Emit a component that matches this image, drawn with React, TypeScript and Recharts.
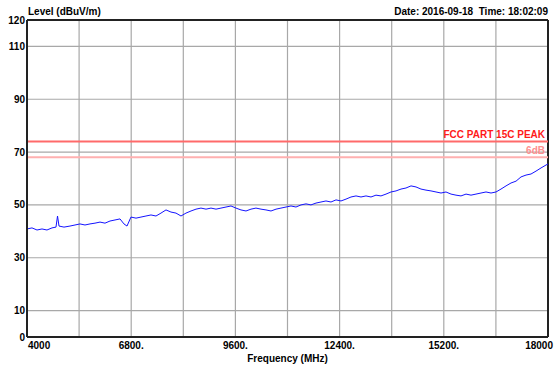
import { LineChart, Line, XAxis, YAxis, CartesianGrid, ReferenceLine, Label } from 'recharts';

const FREQ = [
  4000, 4134, 4269, 4403, 4537, 4672, 4779, 4820, 4860, 4994, 5155, 5290, 5424, 5558, 5693, 5827,
  5962, 6096, 6230, 6365, 6499, 6606, 6687, 6794, 6929, 7063, 7197, 7332, 7466, 7600, 7735, 7869,
  8004, 8138, 8272, 8407, 8541, 8675, 8810, 8944, 9079, 9213, 9347, 9482, 9616, 9750, 9885, 10019,
  10153, 10288, 10422, 10557, 10691, 10825, 10960, 11094, 11228, 11363, 11497, 11631, 11766, 11900,
  12034, 12169, 12303, 12438, 12572, 12706, 12841, 12975, 13109, 13244, 13378, 13512, 13647, 13781,
  13916, 14050, 14184, 14319, 14453, 14587, 14722, 14856, 14991, 15125, 15259, 15394, 15528, 15662,
  15797, 15931, 16065, 16200, 16334, 16469, 16603, 16737, 16872, 17006, 17141, 17275, 17409, 17544,
  17678, 17813, 17947, 18000,
];
const LEVEL = [
  40.9, 41.3, 40.5, 40.9, 40.5, 41.3, 41.6, 45.8, 42.0, 41.6, 42.0, 42.4, 42.8, 42.4, 42.8, 43.1,
  43.5, 43.1, 43.9, 44.3, 44.7, 42.8, 42.0, 45.4, 45.0, 45.4, 45.8, 46.2, 45.8, 46.9, 48.1, 47.3,
  46.9, 45.8, 46.9, 47.7, 48.4, 48.8, 48.4, 48.8, 48.4, 48.8, 49.2, 49.6, 48.8, 48.1, 47.7, 48.4,
  48.8, 48.4, 48.1, 47.7, 48.4, 48.8, 49.2, 49.6, 49.2, 50.0, 50.4, 50.0, 50.7, 51.1,
  51.5, 51.1, 51.9, 51.5, 52.2, 53.0, 53.4, 53.0, 53.4, 53.0, 53.7, 53.4, 54.1, 54.9,
  55.3, 56.0, 56.4, 57.2, 56.8, 56.0, 55.6, 55.3, 54.9, 54.5, 54.9, 54.1, 53.7, 53.4,
  54.1, 53.7, 54.1, 54.5, 54.9, 54.5, 54.9, 56.0, 57.2, 58.3, 59.0, 60.6, 61.3, 61.7,
  62.8, 64.0, 65.1, 65.5,
];
const X_TICKS = [4000, 6800, 9600, 12400, 15200, 18000];
const X_TICK_LABELS = ['4000', '6800.', '9600.', '12400.', '15200.', '18000'];
const X_GRID = [5400, 6800, 8200, 9600, 11000, 12400, 13800, 15200, 16600];
const Y_TICKS = [0, 10, 30, 50, 70, 90, 110, 120];
const Y_GRID = [10, 30, 50, 70, 90, 110];
const FCC_LIMIT = 74;
const MARGIN_LIMIT = 68;

const data = FREQ.map((f, i) => ({ f, level: LEVEL[i] }));

const FONT = '"Liberation Sans", Arial, sans-serif';
const FS = 10;

function XTick({ x, y, payload, index }: any) {
  const last = index === X_TICKS.length - 1;
  const anchor = index === 0 ? 'start' : last ? 'end' : 'middle';
  const dx = index === 0 ? 1 : last ? 5 : 0;
  return (
    <text x={x + dx} y={y + 8} textAnchor={anchor} dominantBaseline="central"
      fontFamily={FONT} fontWeight="bold" fontSize={FS} fill="#000">
      {X_TICK_LABELS[X_TICKS.indexOf(payload.value)]}
    </text>
  );
}

function YTick({ x, y, payload }: any) {
  return (
    <text x={x - 2} y={y} textAnchor="end" dominantBaseline="central"
      fontFamily={FONT} fontWeight="bold" fontSize={FS} fill="#000">
      {payload.value}
    </text>
  );
}

function limitLabel(text: string, color: string) {
  return ({ viewBox }: any) => (
    <text x={viewBox.x + viewBox.width - 3} y={viewBox.y - 7} textAnchor="end" dominantBaseline="central"
      fontFamily={FONT} fontWeight="bold" fontSize={FS} fill={color}>
      {text}
    </text>
  );
}

export default function App() {
  return (
    <div style={{ position: 'relative', width: 556, height: 370, background: '#fff', fontFamily: FONT }}>
      <style>{'body{margin:0}'}</style>
      <div style={{ position: 'absolute', left: 28, top: 6, fontSize: FS, fontWeight: 'bold' }}>Level (dBuV/m)</div>
      <div style={{ position: 'absolute', right: 8, top: 6, fontSize: FS, fontWeight: 'bold', whiteSpace: 'pre' }}>
        Date: 2016-09-18  Time: 18:02:09
      </div>
      <LineChart width={556} height={370} data={data} margin={{ top: 20, right: 8, bottom: 0, left: 0 }}>
        <CartesianGrid stroke="#a8a8a8" strokeWidth={1.2}
          verticalValues={X_GRID} horizontalValues={Y_GRID} />
        <XAxis dataKey="f" type="number" domain={[4000, 18000]} ticks={X_TICKS} interval={0}
          tick={<XTick />} tickSize={0} tickMargin={0} height={33}
          axisLine={{ stroke: '#222', strokeWidth: 2 }}>
          <Label value="Frequency (MHz)" position="insideBottom" offset={8}
            style={{ fontFamily: FONT, fontWeight: 'bold', fontSize: FS, fill: '#000' }} />
        </XAxis>
        <YAxis type="number" domain={[0, 120]} ticks={Y_TICKS} interval={0} width={27}
          tick={<YTick />} tickSize={0} tickMargin={0}
          axisLine={{ stroke: '#222', strokeWidth: 2 }} />
        <ReferenceLine y={120} stroke="#222" strokeWidth={2} />
        <ReferenceLine x={18000} stroke="#222" strokeWidth={2} />
        <ReferenceLine y={FCC_LIMIT} stroke="#ff6a6a" strokeWidth={2}
          label={limitLabel('FCC PART 15C PEAK', '#ff1a1a')} />
        <ReferenceLine y={MARGIN_LIMIT} stroke="#ffb0b0" strokeWidth={2}
          label={limitLabel('6dB', '#ff9090')} />
        <Line type="linear" dataKey="level" stroke="#1414ff" strokeWidth={1} dot={false}
          isAnimationActive={false} />
      </LineChart>
    </div>
  );
}
